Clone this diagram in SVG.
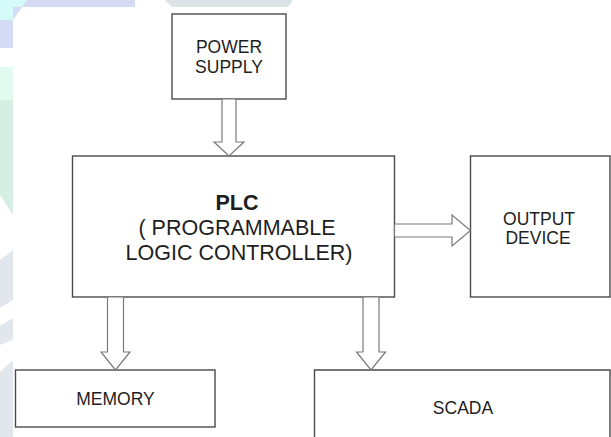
<svg xmlns="http://www.w3.org/2000/svg" width="611" height="437" viewBox="0 0 611 437">
  <style>
    .box { fill: #ffffff; stroke: #4a4a4a; stroke-width: 1.4; }
    .arrow { fill: #ffffff; stroke: #7a7a7a; stroke-width: 1.2; stroke-linejoin: miter; }
    .lbl { font-family: "Liberation Sans", Arial, sans-serif; fill: #1e1e1e; text-anchor: middle; }
    .sm { font-size: 17.5px; }
    .lg { font-size: 21.5px; }
    .bold { font-weight: bold; }
  </style>
  <!-- background and watermark -->
  <rect x="0" y="0" width="611" height="437" fill="#ffffff"/>
  <g id="watermark">
    <polygon points="0,0 27,0 13,20 0,20" fill="#d4fafa"/>
    <polygon points="27,0 135,0 135,7 13,7 13,20 0,20 0,48 13,48 13,20" fill="#d6dbf5"/>
    <polygon points="0,67 13,67 13,100 0,100" fill="#e2fbef"/>
    <polygon points="0,100 13,100 13,215 0,195" fill="#d6efe5"/>
    <polygon points="0,260 13,250 13,437 0,437" fill="#e2e7ee"/>
    <polygon points="0,308 13,300 13,318 0,326" fill="#ffffff"/>
    <polygon points="0,345 13,340 13,360 0,372" fill="#ffffff"/>
    <polygon points="165,0 293,0 288,7 172,7" fill="#dbe3e6"/>
  </g>

  <g id="power-supply">
    <rect class="box" x="172" y="14" width="114" height="85"/>
    <text class="lbl sm" x="229" y="53">POWER</text>
    <text class="lbl sm" x="229" y="73">SUPPLY</text>
  </g>

  <g id="plc">
    <rect class="box" x="72.5" y="156" width="322" height="141"/>
    <text class="lbl lg bold" x="237" y="210">PLC</text>
    <text class="lbl lg" x="237" y="235">( PROGRAMMABLE</text>
    <text class="lbl lg" x="239" y="260">LOGIC CONTROLLER)</text>
  </g>

  <g id="output-device">
    <rect class="box" x="470.5" y="156" width="139.5" height="141"/>
    <text class="lbl sm" x="539" y="225">OUTPUT</text>
    <text class="lbl sm" x="538" y="243.5">DEVICE</text>
  </g>

  <g id="memory">
    <rect class="box" x="15.5" y="370" width="199.5" height="57"/>
    <text class="lbl sm" x="115.5" y="405">MEMORY</text>
  </g>

  <g id="scada">
    <path class="box" d="M314.5,440 L314.5,370 L610,370 L610,440"/>
    <text class="lbl sm" x="463" y="413.5">SCADA</text>
  </g>

  <g id="connectors">
    <polygon class="arrow" points="222,99 236,99 236,142 244,142 229,156 214,142 222,142"/>
    <polygon class="arrow" points="394.5,224 452,224 452,215 470.5,230.5 452,246 452,237 394.5,237"/>
    <polygon class="arrow" points="107.5,297 123.5,297 123.5,352 130,352 115.5,370 101,352 107.5,352"/>
    <polygon class="arrow" points="363,297 379,297 379,352 385.5,352 371,370 356.5,352 363,352"/>
  </g>
</svg>
